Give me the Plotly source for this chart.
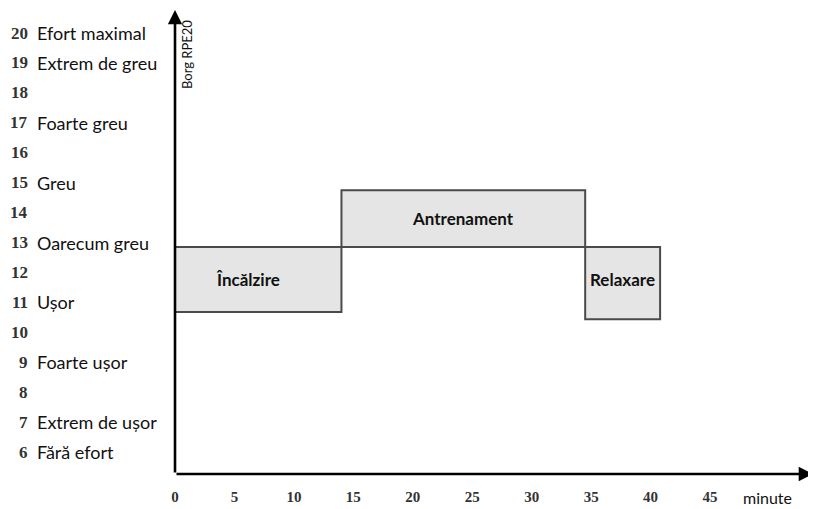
import plotly.graph_objects as go

# ---- data ----
rpe_values = [20, 19, 18, 17, 16, 15, 14, 13, 12, 11, 10, 9, 8, 7, 6]
rpe_labels = ["Efort maximal", "Extrem de greu", "", "Foarte greu", "", "Greu", "",
              "Oarecum greu", "", "Ușor", "", "Foarte ușor", "", "Extrem de ușor", "Fără efort"]
x_ticks = [0, 5, 10, 15, 20, 25, 30, 35, 40, 45]

phases = ["Încălzire", "Antrenament", "Relaxare"]
phase_start = [0, 14, 34.5]
phase_end = [14, 34.5, 40.8]
phase_low = [10.68, 12.85, 10.44]
phase_high = [12.85, 14.75, 12.85]

# ---- layout geometry (page body has an 8px margin) ----
OFF = 8
W, H = 816 - OFF, 509 - OFF
PL, PT, PB = 175, 10, 474          # plot area in page pixels
PR = 813
L, T = PL - OFF, PT - OFF
R = (OFF + W) - PR
B = (OFF + H) - PB
plot_w = PR - PL
plot_h = PB - PT
X_MAX = 53.66
Y_MIN, Y_MAX = 5.265, 20.77


def px_x(px):
    return (px - PL) / plot_w


def px_y(py):
    return 1 - (py - PT) / plot_h


fig = go.Figure()

fig.add_trace(go.Scatter(x=[0, X_MAX], y=[Y_MIN, Y_MAX], mode="markers",
                         marker=dict(opacity=0), hoverinfo="skip", showlegend=False))

shapes = []
annotations = []
label_xshift = [-10, 0, 0]
label_yshift = [0, 0, 4]
for name, x0, x1, y0, y1, sx, sy in zip(phases, phase_start, phase_end, phase_low, phase_high,
                                         label_xshift, label_yshift):
    shapes.append(dict(type="rect", xref="x", yref="y", x0=x0, x1=x1, y0=y0, y1=y1,
                       fillcolor="#e5e5e5", line=dict(color="#4a4a4a", width=2), layer="below"))
    annotations.append(dict(xref="x", yref="y", x=(x0 + x1) / 2, y=(y0 + y1) / 2,
                            text=name, showarrow=False, xshift=sx, yshift=sy,
                            font=dict(family="Lato", size=17, color="#111", weight="bold")))

# axes arrows
annotations.append(dict(xref="x", yref="y", axref="x", ayref="y",
                        x=X_MAX, y=Y_MIN, ax=0, ay=Y_MIN, text="",
                        showarrow=True, arrowhead=2, arrowsize=1.1, arrowwidth=2.6,
                        arrowcolor="#000"))
annotations.append(dict(xref="x", yref="y", axref="x", ayref="y",
                        x=0, y=Y_MAX, ax=0, ay=Y_MIN, text="",
                        showarrow=True, arrowhead=2, arrowsize=1.1, arrowwidth=2.6,
                        arrowcolor="#000"))

# left scale labels
for v, lab in zip(rpe_values, rpe_labels):
    annotations.append(dict(xref="paper", yref="y", x=px_x(30), y=v, text=f"<b>{v}</b>",
                            xanchor="right", yanchor="middle", showarrow=False,
                            font=dict(family="Liberation Serif", size=17, color="#333")))
    if lab:
        annotations.append(dict(xref="paper", yref="y", x=px_x(35), y=v, text=lab,
                                xanchor="left", yanchor="middle", showarrow=False,
                                font=dict(family="Lato", size=18, color="#111")))

# y-axis title
annotations.append(dict(xref="paper", yref="paper", x=px_x(187), y=px_y(55),
                        xanchor="center", yanchor="middle",
                        text="Borg RPE20", textangle=-90, showarrow=False,
                        font=dict(family="Lato", size=13, color="#111")))
# x-axis title
annotations.append(dict(xref="paper", yref="paper", x=px_x(767), y=px_y(497),
                        xanchor="center", yanchor="middle",
                        text="minute", showarrow=False,
                        font=dict(family="Lato", size=16, color="#111")))

fig.update_layout(
    width=W, height=H,
    margin=dict(l=L, r=R, t=T, b=B, pad=0),
    paper_bgcolor="white", plot_bgcolor="white",
    shapes=shapes, annotations=annotations, showlegend=False,
    xaxis=dict(range=[0, X_MAX], showgrid=False, zeroline=False, showline=False,
               tickmode="array", tickvals=x_ticks, ticktext=[f"<b>{t}</b>" for t in x_ticks],
               ticks="", ticklabelstandoff=12,
               tickfont=dict(family="Liberation Serif", size=15, color="#333")),
    yaxis=dict(range=[Y_MIN, Y_MAX], showgrid=False, zeroline=False, showline=False,
               showticklabels=False, ticks=""),
)

fig.write_html("out.html")
